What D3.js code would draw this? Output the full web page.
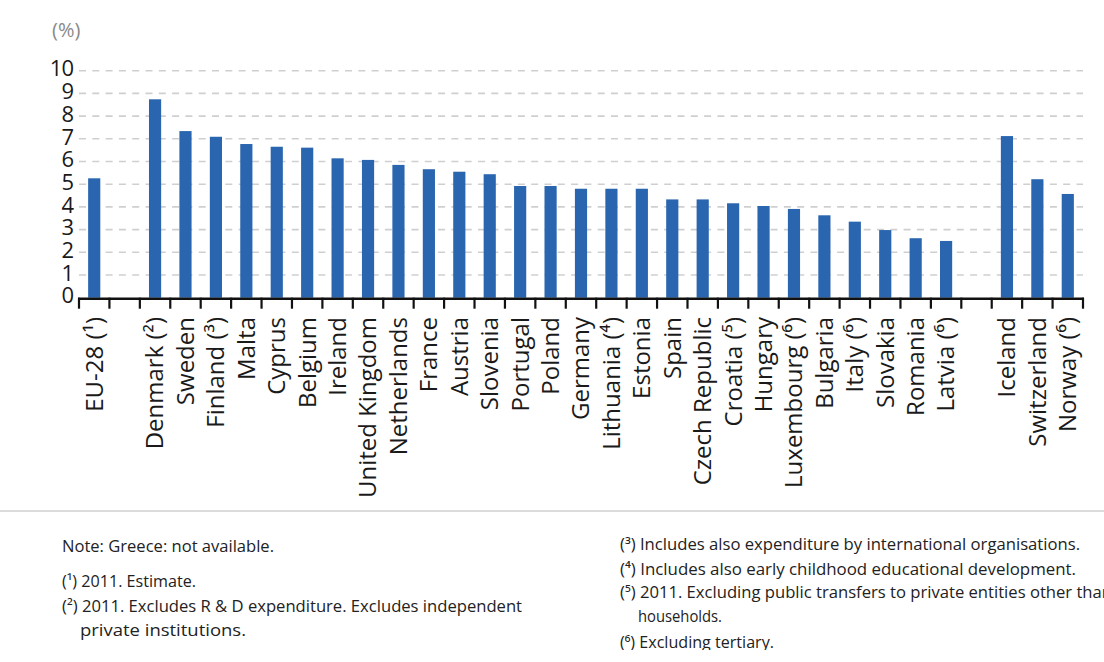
<!DOCTYPE html>
<html>
<head>
<meta charset="utf-8">
<script src="https://cdn.jsdelivr.net/npm/d3@7"></script>
<style>
  html, body { margin: 0; padding: 0; background: #fff; }
  svg { display: block; }
</style>
</head>
<body>
<svg id="chart" width="1104" height="662"></svg>
<script>
// ---- data ----
const categories = [
  "EU-28 (¹)", "",
  "Denmark (²)", "Sweden", "Finland (³)", "Malta", "Cyprus", "Belgium", "Ireland",
  "United Kingdom", "Netherlands", "France", "Austria", "Slovenia", "Portugal", "Poland",
  "Germany", "Lithuania (⁴)", "Estonia", "Spain", "Czech Republic", "Croatia (⁵)",
  "Hungary", "Luxembourg (⁶)", "Bulgaria", "Italy (⁶)", "Slovakia", "Romania", "Latvia (⁶)",
  "",
  "Iceland", "Switzerland", "Norway (⁶)"
];
const values = [
  5.26, null,
  8.74, 7.34, 7.09, 6.77, 6.65, 6.61, 6.14,
  6.07, 5.85, 5.66, 5.55, 5.44, 4.92, 4.92,
  4.80, 4.80, 4.80, 4.33, 4.33, 4.16,
  4.04, 3.91, 3.63, 3.35, 2.98, 2.62, 2.50,
  null,
  7.12, 5.22, 4.57
];
const yTicks = [0, 1, 2, 3, 4, 5, 6, 7, 8, 9, 10];
const unitLabel = "(%)";
const notesLeft = [
  "Note: Greece: not available.",
  "(¹) 2011. Estimate.",
  "(²) 2011. Excludes R & D expenditure. Excludes independent",
  "private institutions."
];
const notesRight = [
  "(³) Includes also expenditure by international organisations.",
  "(⁴) Includes also early childhood educational development.",
  "(⁵) 2011. Excluding public transfers to private entities other than",
  "households.",
  "(⁶) Excluding tertiary."
];

// ---- layout ----
const svg = d3.select("#chart");
const x0 = 79, x1 = 1083, yBase = 297.7, yTop = 70.7;
const x = d3.scaleBand()
  .domain(d3.range(categories.length))
  .range([x0, x1])
  .paddingInner(0.6)
  .paddingOuter(0.3);
const y = d3.scaleLinear().domain([0, 10]).range([yBase, yTop]);
const step = x.step();

// gridlines
svg.append("g")
  .selectAll("line")
  .data(yTicks.filter(t => t > 0))
  .join("line")
  .attr("x1", x0).attr("x2", x1)
  .attr("y1", d => y(d)).attr("y2", d => y(d))
  .attr("stroke", "#cfcfcf")
  .attr("stroke-width", 1.6)
  .attr("stroke-dasharray", "7,6.3");

// y tick labels
svg.append("g")
  .selectAll("text")
  .data(yTicks)
  .join("text")
  .attr("x", 73)
  .attr("y", d => y(d) - 2)
  .attr("dy", "0.35em")
  .attr("text-anchor", "end")
  .attr("font-family", "Open Sans, sans-serif")
  .attr("font-size", 22)
  .attr("letter-spacing", -1)
  .attr("fill", "#1a1a1a")
  .text(d => d);

// unit label
svg.append("text")
  .attr("x", 52).attr("y", 30).attr("dy", "0.35em")
  .attr("font-family", "Open Sans, sans-serif")
  .attr("font-size", 20)
  .attr("fill", "#8a8a8a")
  .text(unitLabel);

// bars
svg.append("g")
  .selectAll("rect")
  .data(values.map((v, i) => ({ v, i })).filter(d => d.v != null))
  .join("rect")
  .attr("x", d => x(d.i))
  .attr("width", x.bandwidth())
  .attr("y", d => y(d.v))
  .attr("height", d => yBase - y(d.v))
  .attr("fill", "#2a66b0");

// x axis line + ticks
svg.append("line")
  .attr("x1", x0 - 1).attr("x2", x1 + 1)
  .attr("y1", yBase + 1).attr("y2", yBase + 1)
  .attr("stroke", "#111").attr("stroke-width", 2.5);
svg.append("g")
  .selectAll("line")
  .data(d3.range(categories.length + 1))
  .join("line")
  .attr("x1", i => x0 + i * step).attr("x2", i => x0 + i * step)
  .attr("y1", yBase).attr("y2", yBase + 11)
  .attr("stroke", "#111").attr("stroke-width", 2.2);

// x labels
svg.append("g")
  .selectAll("text")
  .data(categories.map((c, i) => ({ c, i })).filter(d => d.c !== ""))
  .join("text")
  .attr("transform", d => `translate(${x(d.i) + x.bandwidth() / 2},317) rotate(-90)`)
  .attr("dy", "0.35em")
  .attr("text-anchor", "end")
  .attr("font-family", "Open Sans, sans-serif")
  .attr("font-size", 24)
  .attr("fill", "#1a1a1a")
  .text(d => d.c);

// separator
svg.append("line")
  .attr("x1", 0).attr("x2", 1104)
  .attr("y1", 511).attr("y2", 511)
  .attr("stroke", "#dcdcdc").attr("stroke-width", 2);

// footnotes
const noteFont = { family: "Open Sans, sans-serif", size: 16 };
const leftSpecs = [
  { x: 62, y: 546, w: 212 },
  { x: 62, y: 581, w: 134 },
  { x: 62, y: 606, w: 460 },
  { x: 80, y: 630, w: 166 }
];
const rightSpecs = [
  { x: 620, y: 544, w: 460 },
  { x: 620, y: 569, w: 456 },
  { x: 620, y: 592, w: 492 },
  { x: 638, y: 616, w: 84 },
  { x: 620, y: 642, w: 154 }
];
const gNotes = svg.append("g");
function addNotes(lines, specs) {
  gNotes.selectAll(null)
    .data(lines.map((t, i) => ({ t, s: specs[i] })))
    .join("text")
    .attr("x", d => d.s.x)
    .attr("y", d => d.s.y)
    .attr("dy", "0.35em")
    .attr("textLength", d => d.s.w)
    .attr("lengthAdjust", "spacingAndGlyphs")
    .attr("font-family", noteFont.family)
    .attr("font-size", noteFont.size)
    .attr("fill", "#222")
    .text(d => d.t);
}
addNotes(notesLeft, leftSpecs);
addNotes(notesRight, rightSpecs);
// crop at the bottom like the source image
svg.append("rect").attr("x", 0).attr("y", 650).attr("width", 1104).attr("height", 12).attr("fill", "#fff");
</script>
</body>
</html>
